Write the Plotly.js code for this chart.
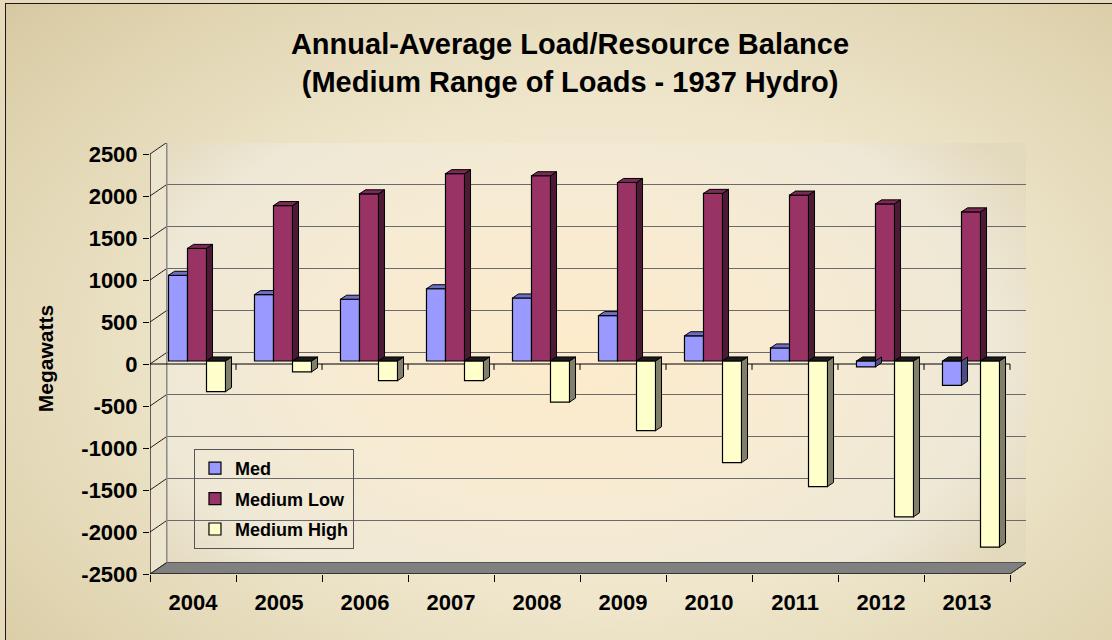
<!DOCTYPE html>
<html>
<head>
<meta charset="utf-8">
<script src="https://cdn.plot.ly/plotly-3.0.1.min.js"></script>
<style>
  html, body { margin:0; padding:0; width:1112px; height:640px; overflow:hidden; background:#E6DABA; }
  #frame { position:absolute; left:5px; top:3px; width:1200px; height:700px; border:1px solid #1a1a1a;
    background: radial-gradient(ellipse 72% 78% at 50% 50%, #F6EEDA 0%, #EFE6CC 45%, #DFD3AF 80%, #D3C59D 100%); }
  #wall { position:absolute; left:167px; top:143px; width:859px; height:420px;
    background: radial-gradient(ellipse 62% 80% at 47% 50%, #FDEBCB 0%, #F7EBD3 45%, #EEE8D6 80%, #E3D9BD 100%); }
  #chart { position:absolute; left:0; top:0; width:1112px; height:640px; }
</style>
</head>
<body>
<div id="frame"></div>
<div id="wall"></div>
<div id="chart"></div>
<script>
// ---- data ----
const years = ['2004','2005','2006','2007','2008','2009','2010','2011','2012','2013'];
const medValues = [1020, 790, 735, 860, 750, 540, 300, 155, -70, -290];
const mediumLowValues = [1340, 1850, 1990, 2230, 2205, 2125, 1995, 1975, 1870, 1775];
const mediumHighValues = [-365, -130, -235, -235, -490, -830, -1210, -1495, -1855, -2215];
const seriesNames = ['Med', 'Medium Low', 'Medium High'];
const yTickValues = [-2500, -2000, -1500, -1000, -500, 0, 500, 1000, 1500, 2000, 2500];
const yTickLabels = ['-2500', '-2000', '-1500', '-1000', '-500', '0', '500', '1000', '1500', '2000', '2500'];

// ---- styling / geometry ----
const FONT = 'Liberation Sans, Arial, sans-serif';
const frontColors = ['#9999FF', '#993366', '#FFFFCC'];
const topColors = ['#6E6EC2', '#7A2A55', '#1a1a1a'];
const sideColors = ['#4D4D85', '#4D1A35', '#80806A'];
const X_RANGE = [-0.5, 9.686];
const Y_RANGE = [-2500, 2631];
const WALL_DX = 0.195, WALL_DY = 137;     // depth of back wall (data units)
const BAR_SHIFT_X = 0.0465, BAR_SHIFT_Y = 36; // bar plane offset
const BAR_DX = 0.07, BAR_DY = 48;         // bar depth
const BARGAP = 0.337;

const idx = years.map((_, i) => i);
const seriesVals = [medValues, mediumLowValues, mediumHighValues];

const traces = seriesVals.map((vals, k) => ({
  type: 'bar', name: seriesNames[k], x: idx, y: vals,
  xaxis: 'x2', yaxis: 'y2', legendgroup: 'g' + k,
  marker: { color: frontColors[k], line: { color: '#000', width: 1.2 } },
  hovertemplate: '%{y}<extra>' + seriesNames[k] + '</extra>'
}));
traces.push({ type: 'scatter', x: [], y: [], showlegend: false, hoverinfo: 'skip' });

const shapes = [];
const yMin = yTickValues[0], yMax = yTickValues[yTickValues.length - 1];
const xL = X_RANGE[0], xR = years.length - 0.5;

// left wall fill
shapes.push({ type: 'path', layer: 'below', xref: 'x', yref: 'y',
  path: `M ${xL},${yMin} L ${xL + WALL_DX},${yMin + WALL_DY} L ${xL + WALL_DX},${yMax + WALL_DY} L ${xL},${yMax} Z`,
  fillcolor: '#ECE4CC', line: { width: 0 } });
// floor
shapes.push({ type: 'path', layer: 'below', xref: 'x', yref: 'y',
  path: `M ${xL},${yMin} L ${xL + WALL_DX},${yMin + WALL_DY} L ${xR + WALL_DX},${yMin + WALL_DY} L ${xR},${yMin} Z`,
  fillcolor: '#808080', line: { color: '#555', width: 1 } });
// back wall gridlines and left wall diagonals
yTickValues.forEach(v => {
  if (v !== yMin) {
    shapes.push({ type: 'line', layer: 'between', xref: 'x', yref: 'y',
      x0: xL + WALL_DX, x1: xR + WALL_DX, y0: v + WALL_DY, y1: v + WALL_DY,
      line: { color: (v === yMax ? '#8a8a8a' : '#6a6a6a'), width: 1.2 } });
  }
  shapes.push({ type: 'line', layer: 'between', xref: 'x', yref: 'y',
    x0: xL, x1: xL + WALL_DX, y0: v, y1: v + WALL_DY, line: { color: '#222', width: 1 } });
});
// back wall vertical edges
[xL + WALL_DX, xR + WALL_DX].forEach(x => shapes.push({ type: 'line', layer: 'between', xref: 'x', yref: 'y',
  x0: x, x1: x, y0: yMin + WALL_DY, y1: yMax + WALL_DY, line: { color: '#8a8a8a', width: 1.5 } }));
// front axis lines
shapes.push({ type: 'line', layer: 'between', xref: 'x', yref: 'y', x0: xL, x1: xL, y0: yMin, y1: yMax, line: { color: '#000', width: 1.2 } });
shapes.push({ type: 'line', layer: 'between', xref: 'x', yref: 'y', x0: xL, x1: xR, y0: yMin, y1: yMin, line: { color: '#000', width: 1.2 } });
shapes.push({ type: 'line', layer: 'between', xref: 'x', yref: 'y', x0: xR, x1: xR + WALL_DX, y0: yMin, y1: yMin + WALL_DY, line: { color: '#333', width: 1 } });
// zero plane line with boundary ticks
shapes.push({ type: 'line', layer: 'between', xref: 'x', yref: 'y', x0: xL, x1: xR, y0: 0, y1: 0, line: { color: '#000', width: 1.2 } });
idx.forEach(i => shapes.push({ type: 'line', layer: 'between', xref: 'x', yref: 'y',
  x0: i + 0.5, x1: i + 0.5, y0: 0, y1: -70, line: { color: '#000', width: 1 } }));

// 3D faces of the bars
const w = (1 - BARGAP) / 3;
idx.forEach(i => {
  for (let k = 0; k < 3; k++) {
    const v = seriesVals[k][i];
    const next = k < 2 ? seriesVals[k + 1][i] : null;
    const x0 = i - 1.5 * w + k * w, x1 = x0 + w;
    const topY = Math.max(v, 0), botY = Math.min(v, 0);
    const hiddenSide = next !== null && Math.sign(next) === Math.sign(v) && Math.abs(next) >= Math.abs(v);
    if (!hiddenSide) {
      shapes.push({ type: 'path', layer: 'above', xref: 'x2', yref: 'y2',
        path: `M ${x1},${botY} L ${x1 + BAR_DX},${botY + BAR_DY} L ${x1 + BAR_DX},${topY + BAR_DY} L ${x1},${topY} Z`,
        fillcolor: sideColors[k], line: { color: '#000', width: 1 } });
    }
    const clip = next !== null && next > topY;
    const rx = clip ? x1 : x1 + BAR_DX;
    shapes.push({ type: 'path', layer: 'above', xref: 'x2', yref: 'y2',
      path: `M ${x0},${topY} L ${x0 + BAR_DX},${topY + BAR_DY} L ${rx},${topY + BAR_DY} L ${x1},${topY} Z`,
      fillcolor: v < 0 ? '#1a1a1a' : topColors[k], line: { color: '#000', width: 1 } });
  }
});

const layout = {
  width: 1112, height: 640,
  paper_bgcolor: 'rgba(0,0,0,0)', plot_bgcolor: 'rgba(0,0,0,0)',
  margin: { l: 150, r: 86, t: 143, b: 66, autoexpand: false },
  font: { family: FONT, color: '#000' },
  title: {
    text: 'Annual-Average Load/Resource Balance<br>(Medium Range of Loads - 1937 Hydro)',
    x: 0.5126, xanchor: 'center', xref: 'container', y: 0.915, yanchor: 'top', yref: 'container',
    font: { family: FONT, size: 29, weight: 'bold', color: '#000' }
  },
  barmode: 'group', bargap: BARGAP, bargroupgap: 0,
  showlegend: true,
  legend: {
    x: 0.0502, y: 0.29, xanchor: 'left', yanchor: 'top',
    bgcolor: 'rgba(0,0,0,0)', bordercolor: '#555', borderwidth: 1,
    font: { family: FONT, size: 18, weight: 'bold', color: '#000' },
    traceorder: 'grouped', tracegroupgap: 4, itemwidth: 30
  },
  xaxis: {
    range: X_RANGE, fixedrange: true, showgrid: false, zeroline: false, showline: false,
    tickmode: 'array', tickvals: idx, ticktext: years, ticks: '', ticklabelstandoff: 13,
    tickfont: { family: FONT, size: 22, weight: 'bold', color: '#000' },
    minor: { ticks: 'outside', ticklen: 7, tickcolor: '#000', tickwidth: 1, tickmode: 'linear', tick0: -0.5, dtick: 1, showgrid: false }
  },
  yaxis: {
    range: Y_RANGE, fixedrange: true, showgrid: false, zeroline: false, showline: false,
    tickmode: 'array', tickvals: yTickValues, ticktext: yTickLabels, ticks: 'outside', ticklen: 6, tickcolor: '#000', tickwidth: 1,
    ticklabelstandoff: 1,
    tickfont: { family: FONT, size: 22, weight: 'bold', color: '#000' },
    title: { text: 'Megawatts', standoff: 21, font: { family: FONT, size: 21, weight: 'bold', color: '#000' } }
  },
  xaxis2: { overlaying: 'x', anchor: 'y2', range: [X_RANGE[0] - BAR_SHIFT_X, X_RANGE[1] - BAR_SHIFT_X],
    visible: false, fixedrange: true },
  yaxis2: { overlaying: 'y', anchor: 'x2', range: [Y_RANGE[0] - BAR_SHIFT_Y, Y_RANGE[1] - BAR_SHIFT_Y],
    visible: false, fixedrange: true },
  shapes: shapes
};

Plotly.newPlot('chart', traces, layout, { displayModeBar: false, staticPlot: true });
</script>
</body>
</html>
